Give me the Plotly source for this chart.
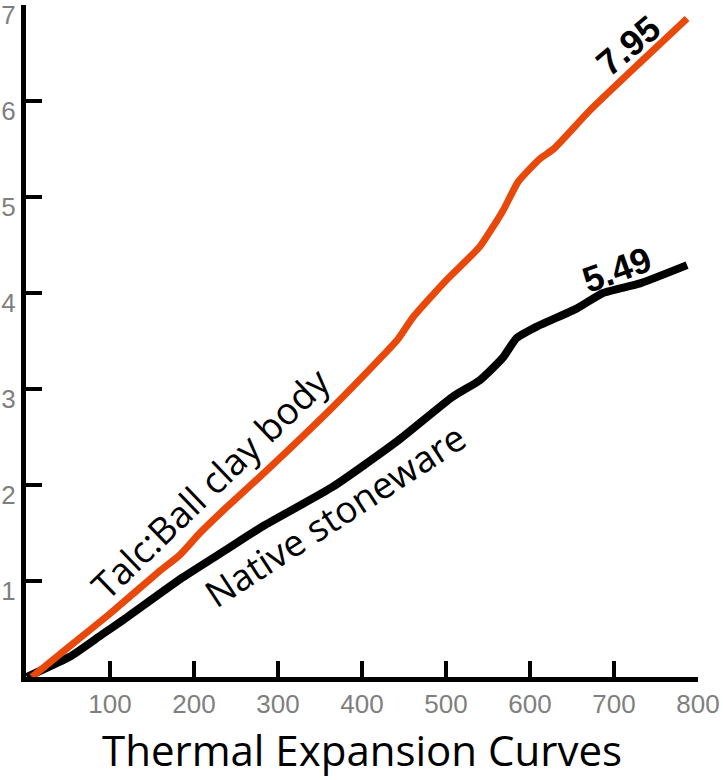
import plotly.graph_objects as go

# Talc:Ball clay body (orange)
talc_x = [7, 52, 100, 160, 183, 207, 239, 279, 365, 425, 442, 461, 501, 540, 568, 586, 612, 628, 671, 731, 787]
talc_y = [0.0, 0.32, 0.66, 1.11, 1.27, 1.50, 1.77, 2.09, 2.81, 3.35, 3.51, 3.75, 4.14, 4.48, 4.86, 5.16, 5.40, 5.50, 5.90, 6.40, 6.86]

# Native stoneware (black)
native_x = [1, 52, 90, 115, 187, 239, 282, 365, 441, 508, 540, 568, 584, 608, 656, 687, 731, 787]
native_y = [0.0, 0.21, 0.44, 0.59, 1.04, 1.33, 1.57, 1.98, 2.45, 2.92, 3.09, 3.33, 3.53, 3.65, 3.84, 4.00, 4.10, 4.29]

x_ticks = [100, 200, 300, 400, 500, 600, 700, 800]
y_ticks = [1, 2, 3, 4, 5, 6, 7]

labels = ["Talc:Ball clay body", "Native stoneware"]
end_labels = ["7.95", "5.49"]
title = "Thermal Expansion Curves"

ORANGE = "#E9480B"

fig = go.Figure()
fig.add_trace(go.Scatter(x=native_x, y=native_y, mode="lines",
                         line=dict(color="black", width=8, shape="spline", smoothing=0.5), name=labels[1]))
fig.add_trace(go.Scatter(x=talc_x, y=talc_y, mode="lines",
                         line=dict(color=ORANGE, width=7, shape="spline", smoothing=0.5), name=labels[0]))

axis_common = dict(
    showgrid=False, zeroline=False, showline=True, linecolor="black", linewidth=5,
    ticks="inside", ticklen=16, tickwidth=4, tickcolor="black",
    ticklabeloverflow="allow", automargin=False,
    tickfont=dict(family="Liberation Sans, Arial, sans-serif", size=26, color="#7f7f7f"),
)

fig.update_layout(
    width=723, height=780,
    margin=dict(l=26, r=25, t=5, b=103, autoexpand=False),
    paper_bgcolor="white", plot_bgcolor="white",
    showlegend=False,
    xaxis=dict(range=[0, 800], tickvals=x_ticks, ticktext=[str(v) for v in x_ticks], **axis_common),
    yaxis=dict(range=[0, 7], tickvals=y_ticks, ticktext=[str(v) for v in y_ticks],
               ticklabelshift=10, **axis_common),
)

fig.add_annotation(x=219, y=2.03, xref="x", yref="y", text=labels[0], showarrow=False,
                   textangle=-44, font=dict(family="Open Sans, Noto Sans, sans-serif", size=37, color="black"))
fig.add_annotation(x=368, y=1.69, xref="x", yref="y", text=labels[1], showarrow=False,
                   textangle=-33, font=dict(family="Open Sans, Noto Sans, sans-serif", size=37, color="black"))
fig.add_annotation(x=717, y=6.58, xref="x", yref="y", text="<b>" + end_labels[0] + "</b>", showarrow=False,
                   textangle=-40, font=dict(family="Liberation Sans, Arial, sans-serif", size=36, color="black"))
fig.add_annotation(x=704, y=4.24, xref="x", yref="y", text="<b>" + end_labels[1] + "</b>", showarrow=False,
                   textangle=-20, font=dict(family="Liberation Sans, Arial, sans-serif", size=36, color="black"))
fig.add_annotation(x=0.5, y=-0.1086, xref="paper", yref="paper", text=title, showarrow=False,
                   xanchor="center", yanchor="middle",
                   font=dict(family="Open Sans, Noto Sans, sans-serif", size=42, color="black"))

fig.write_html("out.html")
